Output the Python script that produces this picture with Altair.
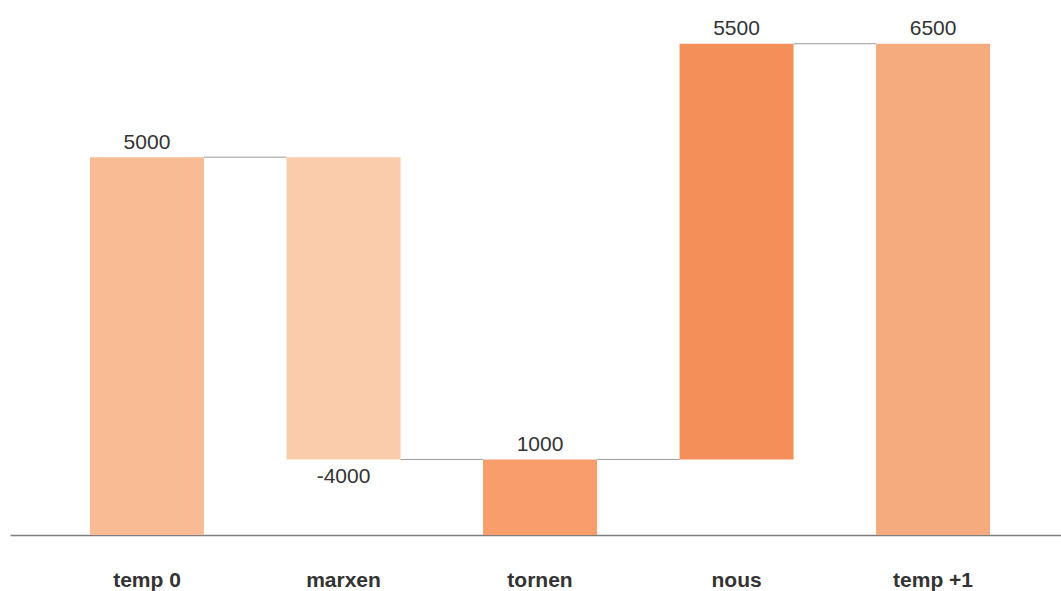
import altair as alt
import pandas as pd

categories = ["temp 0", "marxen", "tornen", "nous", "temp +1"]
values = [5000, -4000, 1000, 5500, 6500]
starts = [0, 5000, 0, 1000, 0]
ends = [5000, 1000, 1000, 6500, 6500]
colors = ["#F9BB94", "#FBCCAB", "#F79E6C", "#F58F59", "#F6AB7F"]

bars = pd.DataFrame({
    "cat": categories,
    "value": values,
    "start": starts,
    "end": ends,
    "label": [str(v) for v in values],
})

conn = pd.DataFrame({
    "cat": categories[:-1],
    "level": ends[:-1],
})

xscale = alt.Scale(domain=categories, paddingInner=0.42, paddingOuter=0.384, align=0.53)
yscale = alt.Scale(domain=[0, 7000], nice=False, zero=True)

x = alt.X("cat:N", scale=xscale,
          axis=alt.Axis(title=None, labelAngle=0, labelFontSize=21, labelFontWeight="bold",
                        labelColor="#333333", labelFont="Liberation Sans", ticks=False,
                        labelPadding=34, domainColor="#7f7f7f", domainWidth=1.5))

bar_layer = alt.Chart(bars).mark_bar(size=114).encode(
    x=x,
    y=alt.Y("start:Q", scale=yscale, axis=None),
    y2="end:Q",
    color=alt.Color("cat:N", scale=alt.Scale(domain=categories, range=colors), legend=None),
)

conn_layer = alt.Chart(conn).mark_rule(
    color="#9a9a9a", strokeWidth=1, xOffset=57, x2Offset=139.5
).encode(
    x=alt.X("cat:N"),
    x2="cat:N",
    y=alt.Y("level:Q"),
)

pos_labels = alt.Chart(bars).transform_filter("datum.value > 0").mark_text(
    baseline="alphabetic", dy=-8.5, fontSize=21, font="Liberation Sans", color="#333333"
).encode(
    x=alt.X("cat:N"),
    y=alt.Y("end:Q"),
    text="label:N",
)

neg_labels = alt.Chart(bars).transform_filter("datum.value < 0").mark_text(
    baseline="top", dy=7, fontSize=21, font="Liberation Sans", color="#333333"
).encode(
    x=alt.X("cat:N"),
    y=alt.Y("end:Q"),
    text="label:N",
)

chart = alt.layer(bar_layer, conn_layer, pos_labels, neg_labels).properties(
    width=1051, height=529,
    autosize=alt.AutoSizeParams(type="none"),
    padding={"left": 10, "top": 6, "right": 0, "bottom": 56},
).configure_view(stroke=None)

chart.save("out.html", embed_options={"renderer": "svg", "actions": False})
